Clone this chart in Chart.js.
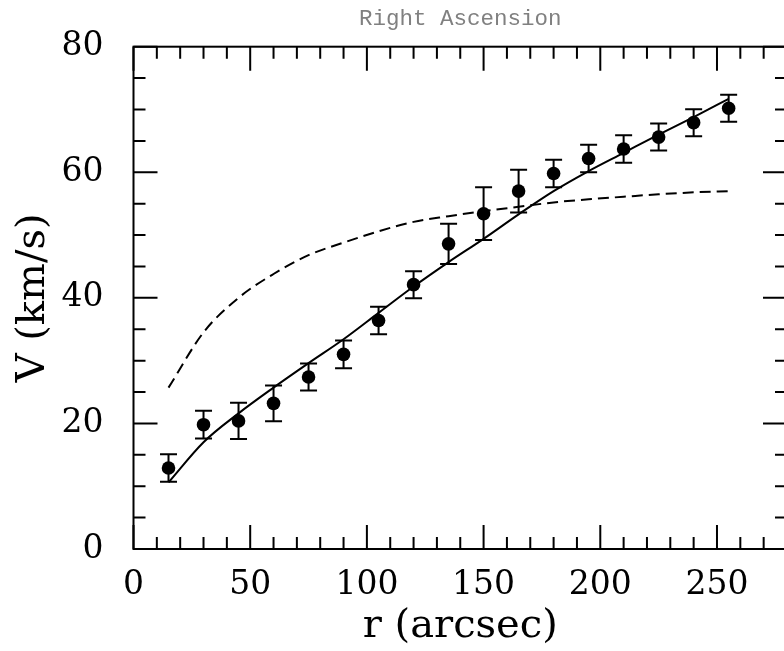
<!DOCTYPE html>
<html>
<head>
<meta charset="utf-8">
<script src="https://cdn.jsdelivr.net/npm/chart.js@4.4.0/dist/chart.umd.min.js"></script>
<style>
  html, body { margin: 0; padding: 0; background: #fff; overflow: hidden; }
  canvas { display: block; }
</style>
</head>
<body>
<canvas id="rc" width="800" height="651"></canvas>
<script>
// rotation curve, values
const radius  = [15, 30, 45, 60, 75, 90, 105, 120, 135, 150, 165, 180, 195, 210, 225, 240, 255];
const velObs  = [12.9, 19.8, 20.4, 23.2, 27.4, 31.0, 36.4, 42.1, 48.6, 53.4, 57.0, 59.8, 62.2, 63.7, 65.6, 67.9, 70.2];
const velErr  = [2.2, 2.2, 2.9, 2.85, 2.15, 2.2, 2.2, 2.15, 3.2, 4.2, 3.4, 2.2, 2.2, 2.2, 2.15, 2.15, 2.15];
const velFit  = [10.6, 17.0, 21.6, 25.7, 29.6, 33.4, 37.6, 41.8, 45.7, 49.4, 53.3, 57.0, 60.2, 63.1, 66.0, 68.8, 71.7];
const velDash = [25.7, 34.5, 40.0, 43.8, 46.8, 48.8, 50.6, 52.1, 53.0, 53.8, 54.5, 55.2, 55.7, 56.1, 56.5, 56.8, 57.0];
const xTicks  = [0, 50, 100, 150, 200, 250];
const yTicks  = [0, 20, 40, 60, 80];

const SERIF = 'DejaVu Serif';
const pts = arr => radius.map((r, i) => ({ x: r, y: arr[i] }));

// error bars under the points
const errorBars = {
  id: 'errorBars',
  beforeDatasetsDraw(chart) {
    const { ctx, scales: { x, y } } = chart;
    ctx.save();
    ctx.strokeStyle = '#000';
    ctx.lineWidth = 2;
    radius.forEach((r, i) => {
      const px = x.getPixelForValue(r);
      const top = y.getPixelForValue(velObs[i] + velErr[i]);
      const bot = y.getPixelForValue(velObs[i] - velErr[i]);
      ctx.beginPath();
      ctx.moveTo(px, top); ctx.lineTo(px, bot);
      ctx.moveTo(px - 8.5, top); ctx.lineTo(px + 8.5, top);
      ctx.moveTo(px - 8.5, bot); ctx.lineTo(px + 8.5, bot);
      ctx.stroke();
    });
    ctx.restore();
  }
};

// box + inward major/minor ticks on all four sides
const frame = {
  id: 'frame',
  afterDatasetsDraw(chart) {
    const { ctx, chartArea: a, scales: { x, y } } = chart;
    ctx.save();
    ctx.strokeStyle = '#000';
    ctx.lineWidth = 2;
    ctx.strokeRect(a.left, a.top, a.right - a.left, a.bottom - a.top);
    ctx.beginPath();
    for (let v = 0; v <= x.max; v += 10) {
      const px = x.getPixelForValue(v);
      const len = v % 50 === 0 ? 24 : 12;
      ctx.moveTo(px, a.bottom); ctx.lineTo(px, a.bottom - len);
      ctx.moveTo(px, a.top); ctx.lineTo(px, a.top + len);
    }
    for (let v = 0; v <= y.max; v += 5) {
      const py = y.getPixelForValue(v);
      const len = v % 20 === 0 ? 24 : 12;
      ctx.moveTo(a.left, py); ctx.lineTo(a.left + len, py);
      ctx.moveTo(a.right, py); ctx.lineTo(a.right - len, py);
    }
    ctx.stroke();
    ctx.restore();
  }
};

new Chart(document.getElementById('rc'), {
  type: 'line',
  data: {
    datasets: [
      { data: pts(velObs), showLine: false, pointRadius: 6.8, pointBackgroundColor: '#000', pointBorderWidth: 0 },
      { data: pts(velFit), borderColor: '#000', borderWidth: 2, pointRadius: 0, cubicInterpolationMode: 'monotone' },
      { data: pts(velDash), borderColor: '#000', borderWidth: 2, borderDash: [11, 6], pointRadius: 0, cubicInterpolationMode: 'monotone' }
    ]
  },
  options: {
    responsive: false,
    animation: false,
    devicePixelRatio: 1,
    layout: { padding: { right: 13 } },
    plugins: {
      legend: { display: false },
      tooltip: { enabled: false },
      title: {
        display: true, text: 'Right Ascension', fullSize: false,
        color: '#808080', font: { family: 'Liberation Mono', size: 22.5, weight: 'normal' },
        padding: { top: 6, bottom: 13.7 }
      }
    },
    scales: {
      x: {
        type: 'linear', min: 0, max: 280,
        afterBuildTicks: s => { s.ticks = xTicks.map(v => ({ value: v })); },
        afterFit: s => { s.height = 102; },
        grid: { display: false }, border: { display: false },
        ticks: { color: '#000', font: { family: SERIF, size: 33 }, padding: 9, maxRotation: 0 },
        title: { display: true, text: 'r (arcsec)', color: '#000', font: { family: SERIF, size: 40 }, padding: { top: 0, bottom: 0 } }
      },
      y: {
        min: 0, max: 80,
        afterBuildTicks: s => { s.ticks = yTicks.map(v => ({ value: v })); },
        afterFit: s => { s.width = 133.5; },
        grid: { display: false }, border: { display: false },
        ticks: { color: '#000', font: { family: SERIF, size: 33 }, padding: 22 },
        title: { display: true, text: 'V (km/s)', color: '#000', font: { family: SERIF, size: 40 }, padding: { top: 10, bottom: 0 } }
      }
    }
  },
  plugins: [errorBars, frame]
});
</script>
</body>
</html>
